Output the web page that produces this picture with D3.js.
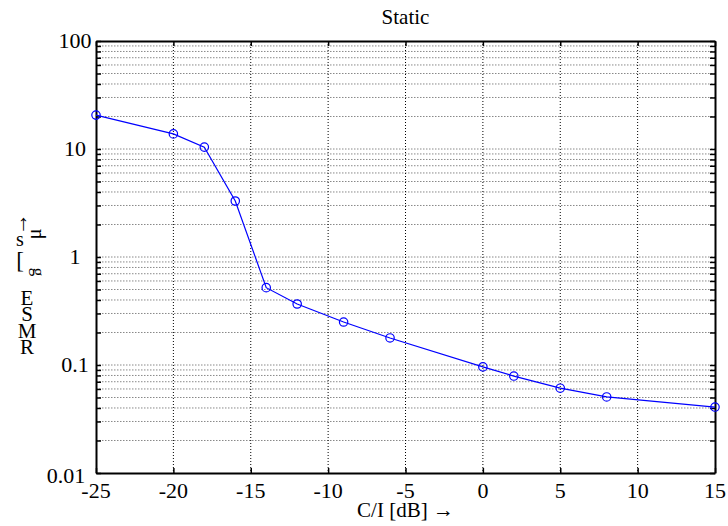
<!DOCTYPE html>
<html><head><meta charset="utf-8">
<script src="https://cdn.jsdelivr.net/npm/d3@7/dist/d3.min.js"></script>
<style>body{margin:0;background:#fff} svg text{font-family:"Liberation Serif", Times, serif !important;}</style>
</head><body>
<svg id="c" width="728" height="526"></svg>
<script>
const ciDb = [-25, -20, -18, -16, -14, -12, -9, -6, 0, 2, 5, 8, 15];
const rmse = [20.6, 13.8, 10.4, 3.3, 0.52, 0.367, 0.25, 0.178, 0.096, 0.079, 0.061, 0.0506, 0.0408];
const xTicks = [-25, -20, -15, -10, -5, 0, 5, 10, 15];
const yTicks = [0.01, 0.1, 1, 10, 100];
const yTickLabels = ["0.01", "0.1", "1", "10", "100"];
const title = "Static";
const xLabel = "C/I [dB] \u2192";

const svg = d3.select("#c");
const L = 96, R = 715, T = 41, B = 473;
const x = d3.scaleLinear().domain([-25, 15]).range([L, R]);
const y = d3.scaleLog().domain([0.01, 100]).range([B, T]);

const minor = [];
for (let e = -2; e < 2; e++) for (let m = 2; m <= 9; m++) minor.push(m * Math.pow(10, e));

const g = svg.append("g");
g.selectAll("line.hg").data(minor.concat(yTicks.slice(1, 4))).join("line")
  .attr("x1", L).attr("x2", R).attr("y1", d => y(d)).attr("y2", d => y(d))
  .attr("stroke", "#888").attr("stroke-width", 1).attr("stroke-dasharray", "1.5,1.5");
g.selectAll("line.vg").data(xTicks.slice(1, -1)).join("line")
  .attr("x1", d => x(d)).attr("x2", d => x(d)).attr("y1", T).attr("y2", B)
  .attr("stroke", "#000").attr("stroke-width", 1).attr("stroke-dasharray", "1,2");

const yAxisL = d3.axisLeft(y).tickValues(minor.concat(yTicks)).tickSizeInner(-5).tickSizeOuter(0).tickFormat("");
const yAxisR = d3.axisRight(y).tickValues(minor.concat(yTicks)).tickSizeInner(-5).tickSizeOuter(0).tickFormat("");
const xAxisB = d3.axisBottom(x).tickValues(xTicks).tickSizeInner(-5).tickSizeOuter(0).tickFormat("");
const xAxisT = d3.axisTop(x).tickValues(xTicks).tickSizeInner(-5).tickSizeOuter(0).tickFormat("");
[[yAxisL, `translate(${L},0)`], [yAxisR, `translate(${R},0)`], [xAxisB, `translate(0,${B})`], [xAxisT, `translate(0,${T})`]].forEach(([a, t]) => {
  const ag = svg.append("g").attr("transform", t).call(a);
  ag.select(".domain").attr("stroke", "#000").attr("stroke-width", 2);
  ag.selectAll(".tick line").attr("stroke", "#000").attr("stroke-width", 1.5);
});

const txt = svg.append("g").attr("fill", "#000");
// y tick labels are centred left of the axis; the lowest one sits lower-left
txt.selectAll("text.yl").data(yTicks).join("text")
  .attr("x", d => d === yTicks[0] ? L - 30 : L - 21)
  .attr("y", d => y(d) + (d === yTicks[0] ? 10 : 7)).attr("text-anchor", "middle")
  .attr("font-size", 22).text((d, i) => yTickLabels[i]);
txt.selectAll("text.xl").data(xTicks).join("text")
  .attr("x", d => x(d)).attr("y", B + 25).attr("text-anchor", "middle")
  .attr("font-size", 22).text(d => d);

const line = d3.line().x((d, i) => x(ciDb[i])).y(d => y(d));
svg.append("path").datum(rmse).attr("d", line).attr("fill", "none").attr("stroke", "#0000ff").attr("stroke-width", 1.2);
svg.selectAll("circle.pt").data(rmse).join("circle")
  .attr("cx", (d, i) => x(ciDb[i])).attr("cy", d => y(d)).attr("r", 4.2)
  .attr("fill", "none").attr("stroke", "#0000ff").attr("stroke-width", 1.2);

txt.append("text").attr("x", (L + R) / 2).attr("y", 24).attr("text-anchor", "middle").attr("font-size", 21).text(title);
txt.append("text").attr("x", (L + R) / 2).attr("y", 517).attr("text-anchor", "middle").attr("font-size", 21).text(xLabel);

// garbled y label glyphs as in the reference (stacked in one text element)
const yl = txt.append("g").attr("font-size", 21);
const stack = yl.append("text").attr("text-anchor", "middle");
[["R", 354], ["M", 338], ["S", 321], ["E", 305]].forEach(([c, cy]) =>
  stack.append("tspan").attr("x", 27).attr("y", cy).text(c));
yl.append("text").attr("transform", "translate(33,272) rotate(90)").attr("text-anchor", "middle").attr("font-size", 17).text("g");
yl.append("text").attr("x", 20).attr("y", 268).attr("text-anchor", "middle").attr("font-size", 23).text("[");
yl.append("text").attr("x", 20).attr("y", 246).attr("text-anchor", "middle").attr("font-size", 20).text("s");
yl.append("text").attr("transform", "translate(41,234) rotate(-90)").attr("text-anchor", "middle").attr("font-size", 20).text("\u03bc");
yl.append("text").attr("transform", "translate(27,224) rotate(-90)").attr("text-anchor", "middle").attr("font-size", 22).text("\u2192");
</script>
</body></html>
